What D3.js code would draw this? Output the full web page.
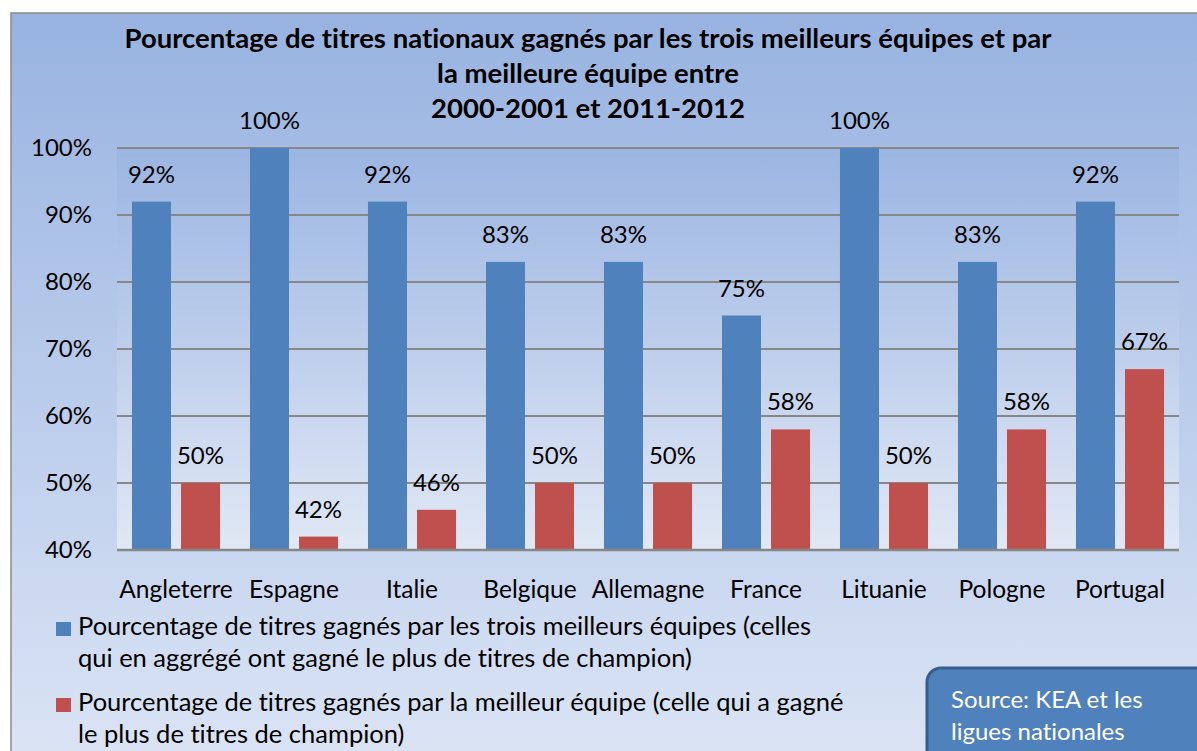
<!DOCTYPE html>
<html>
<head>
<meta charset="utf-8">
<script src="https://cdn.jsdelivr.net/npm/d3@7"></script>
<style>
  body { margin: 0; background: #fff; }
  svg text { font-family: Lato, "Open Sans", sans-serif; fill: #000; font-variant-ligatures: none; }
</style>
</head>
<body>
<svg width="1197" height="751"></svg>
<script>
var pays = ["Angleterre", "Espagne", "Italie", "Belgique", "Allemagne", "France", "Lituanie", "Pologne", "Portugal"];
var troisMeilleures = [0.92, 1.00, 0.92, 0.83, 0.83, 0.75, 1.00, 0.83, 0.92];
var meilleure = [0.50, 0.42, 0.46, 0.50, 0.50, 0.58, 0.50, 0.58, 0.67];
var yTicks = [0.4, 0.5, 0.6, 0.7, 0.8, 0.9, 1.0];
var titre = ["Pourcentage de titres nationaux gagnés par les trois meilleurs équipes et par",
             "la meilleure équipe entre",
             "2000-2001 et 2011-2012"];
var legende = [
    { couleur: "#4f81bd", lignes: ["Pourcentage de titres gagnés par les trois meilleurs équipes (celles",
                                   "qui en aggrégé ont gagné le plus de titres de champion)"] },
    { couleur: "#c0504d", lignes: ["Pourcentage de titres gagnés par la meilleur équipe (celle qui a gagné",
                                   "le plus de titres de champion)"] }
];
var source = ["Source: KEA et les", "ligues nationales"];

var svg = d3.select("svg");

var defs = svg.append("defs");
var g1 = defs.append("linearGradient").attr("id", "fond").attr("x1", 0).attr("y1", 0).attr("x2", 0).attr("y2", 1);
g1.append("stop").attr("offset", "0%").attr("stop-color", "#98b3e1");
g1.append("stop").attr("offset", "100%").attr("stop-color", "#dce5f5");
var g2 = defs.append("linearGradient").attr("id", "fondPlot").attr("x1", 0).attr("y1", 0).attr("x2", 0).attr("y2", 1);
g2.append("stop").attr("offset", "0%").attr("stop-color", "#9bb5e2");
g2.append("stop").attr("offset", "100%").attr("stop-color", "#e1e8f5");

// cadre
svg.append("rect")
    .attr("x", 11).attr("y", 13)
    .attr("width", 1200).attr("height", 760)
    .attr("fill", "url(#fond)")
    .attr("stroke", "#8a8a8a").attr("stroke-width", 1.5);

var pLeft = 117, pRight = 1179, pTop = 148, pBottom = 550;

var x0 = d3.scaleBand().domain(pays).range([pLeft, pRight]).paddingInner(0.254).paddingOuter(0.127);
var x1 = d3.scaleBand().domain([0, 1]).range([0, x0.bandwidth()]).paddingInner(0.204);
var y = d3.scaleLinear().domain([0.4, 1]).range([pBottom, pTop]);
var fmt = d3.format(".0%");

svg.append("rect")
    .attr("x", pLeft).attr("y", pTop)
    .attr("width", pRight - pLeft).attr("height", pBottom - pTop)
    .attr("fill", "url(#fondPlot)");

// grille
svg.append("g").selectAll("line")
    .data(yTicks).enter().append("line")
        .attr("x1", pLeft).attr("x2", pRight)
        .attr("y1", function(d) { return y(d); })
        .attr("y2", function(d) { return y(d); })
        .attr("stroke", "#878787")
        .attr("stroke-width", 2);

var yAxis = svg.append("g")
    .attr("transform", "translate(" + pLeft + ",0)")
    .call(d3.axisLeft(y).tickValues(yTicks).tickFormat(fmt).tickSize(0).tickPadding(25));
yAxis.select(".domain").remove();
yAxis.selectAll("text").style("font-size", "24px").attr("font-family", null);

var xAxis = svg.append("g")
    .attr("transform", "translate(0," + pBottom + ")")
    .call(d3.axisBottom(x0).tickSize(0).tickPadding(31));
xAxis.select(".domain").remove();
xAxis.selectAll("text").style("font-size", "24.5px").attr("font-family", null);

var series = [troisMeilleures, meilleure];
var couleurs = ["#4f81bd", "#c0504d"];

series.forEach(function(vals, s) {
    var grp = svg.append("g");
    grp.selectAll("rect")
        .data(vals).enter().append("rect")
            .attr("x", function(d, i) { return x0(pays[i]) + x1(s); })
            .attr("y", function(d) { return y(d); })
            .attr("width", x1.bandwidth())
            .attr("height", function(d) { return pBottom - y(d); })
            .attr("fill", couleurs[s]);
    grp.selectAll("text")
        .data(vals).enter().append("text")
            .attr("x", function(d, i) { return x0(pays[i]) + x1(s) + x1.bandwidth() / 2; })
            .attr("y", function(d) { return y(d) - 19; })
            .attr("text-anchor", "middle")
            .style("font-size", "24px")
            .text(function(d) { return fmt(d); });
});

// axe du bas
svg.append("line")
    .attr("x1", pLeft).attr("x2", pRight)
    .attr("y1", pBottom).attr("y2", pBottom)
    .attr("stroke", "#878787").attr("stroke-width", 2.5);

// titre
svg.append("text")
    .attr("text-anchor", "middle")
    .style("font-size", "27.5px").style("font-weight", "bold")
    .selectAll("tspan")
    .data(titre).enter().append("tspan")
        .attr("x", 588)
        .attr("y", function(d, i) { return 48 + i * 35; })
        .text(function(d) { return d; });

// légende
var leg = svg.append("g");
legende.forEach(function(item, k) {
    var yy = 635 + k * 76;
    leg.append("rect")
        .attr("x", 56).attr("y", yy - 13)
        .attr("width", 15).attr("height", 14)
        .attr("fill", item.couleur);
    leg.append("text")
        .style("font-size", "25.5px")
        .selectAll("tspan")
        .data(item.lignes).enter().append("tspan")
            .attr("x", 78)
            .attr("y", function(d, i) { return yy + i * 32; })
            .text(function(d) { return d; });
});

// source
svg.append("rect")
    .attr("x", 927).attr("y", 668)
    .attr("width", 300).attr("height", 120)
    .attr("rx", 14).attr("ry", 14)
    .attr("fill", "#4f81bd")
    .attr("stroke", "#385d8a").attr("stroke-width", 3);
svg.append("text")
    .style("font-size", "24px")
    .selectAll("tspan")
    .data(source).enter().append("tspan")
        .attr("x", 951)
        .attr("y", function(d, i) { return 708 + i * 32; })
        .style("fill", "#fff")
        .text(function(d) { return d; });
</script>
</body>
</html>
